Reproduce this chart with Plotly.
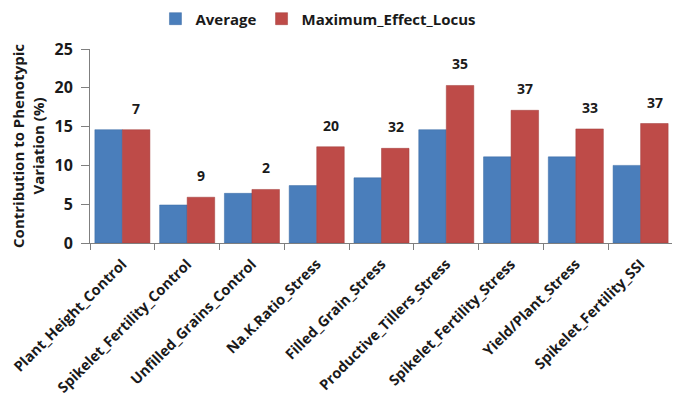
import plotly.graph_objects as go

categories = ["Plant_Height_Control", "Spikelet_Fertility_Control", "Unfilled_Grains_Control",
              "Na.K.Ratio_Stress", "Filled_Grain_Stress", "Productive_Tillers_Stress",
              "Spikelet_Fertility_Stress", "Yield/Plant_Stress", "Spikelet_Fertility_SSI"]
average = [14.6, 4.9, 6.4, 7.4, 8.4, 14.6, 11.1, 11.1, 10.0]
max_effect = [14.6, 5.9, 6.9, 12.4, 12.2, 20.3, 17.1, 14.7, 15.4]
bar_labels = ["7", "9", "2", "20", "32", "35", "37", "33", "37"]

FONT = "Open Sans"
fig = go.Figure()
fig.add_trace(go.Bar(name="Average", x=categories, y=average,
                     marker=dict(color="#4a7ebb", line=dict(color="#3a6aa5", width=0.5))))
fig.add_trace(go.Bar(name="Maximum_Effect_Locus", x=categories, y=max_effect,
                     marker=dict(color="#be4b48", line=dict(color="#a33d3a", width=0.5))))

for c, v, t in zip(categories, max_effect, bar_labels):
    fig.add_annotation(x=c, y=v, text=t, showarrow=False, xshift=14, yshift=10,
                       yanchor="bottom", font=dict(family=FONT, size=14, color="#1a1a1a", weight="bold"))

# page body has an 8px margin: figure is sized/offset to compensate
fig.update_layout(
    width=672, height=404,
    margin=dict(l=82, r=7, t=41, b=169),
    paper_bgcolor="white", plot_bgcolor="white",
    barmode="group", bargap=0.15, bargroupgap=0,
    font=dict(family=FONT, color="#1a1a1a"),
    legend=dict(orientation="h", xref="container", yref="container",
                x=0.462, xanchor="center", y=0.973, yanchor="middle",
                font=dict(size=15, weight="bold"), traceorder="normal",
                itemwidth=30),
    xaxis=dict(showline=True, linecolor="#7f7f7f", linewidth=1, ticks="outside",
               tickson="boundaries", ticklen=6, tickcolor="#7f7f7f", tickangle=-45,
               ticklabelstandoff=6,
               tickfont=dict(size=14.5, weight="bold"), showgrid=False, automargin=False),
    yaxis=dict(range=[0, 25], dtick=5, showline=True, linecolor="#7f7f7f", linewidth=1,
               ticks="outside", ticklen=8, tickcolor="#7f7f7f", showgrid=False,
               ticklabelstandoff=5,
               zeroline=False, tickfont=dict(size=16, weight="bold"), automargin=False,
               title=dict(text="Contribution to Phenotypic<br>Variation (%)",
                          font=dict(size=15, weight="bold"), standoff=8)),
)

fig.write_html("out.html")
